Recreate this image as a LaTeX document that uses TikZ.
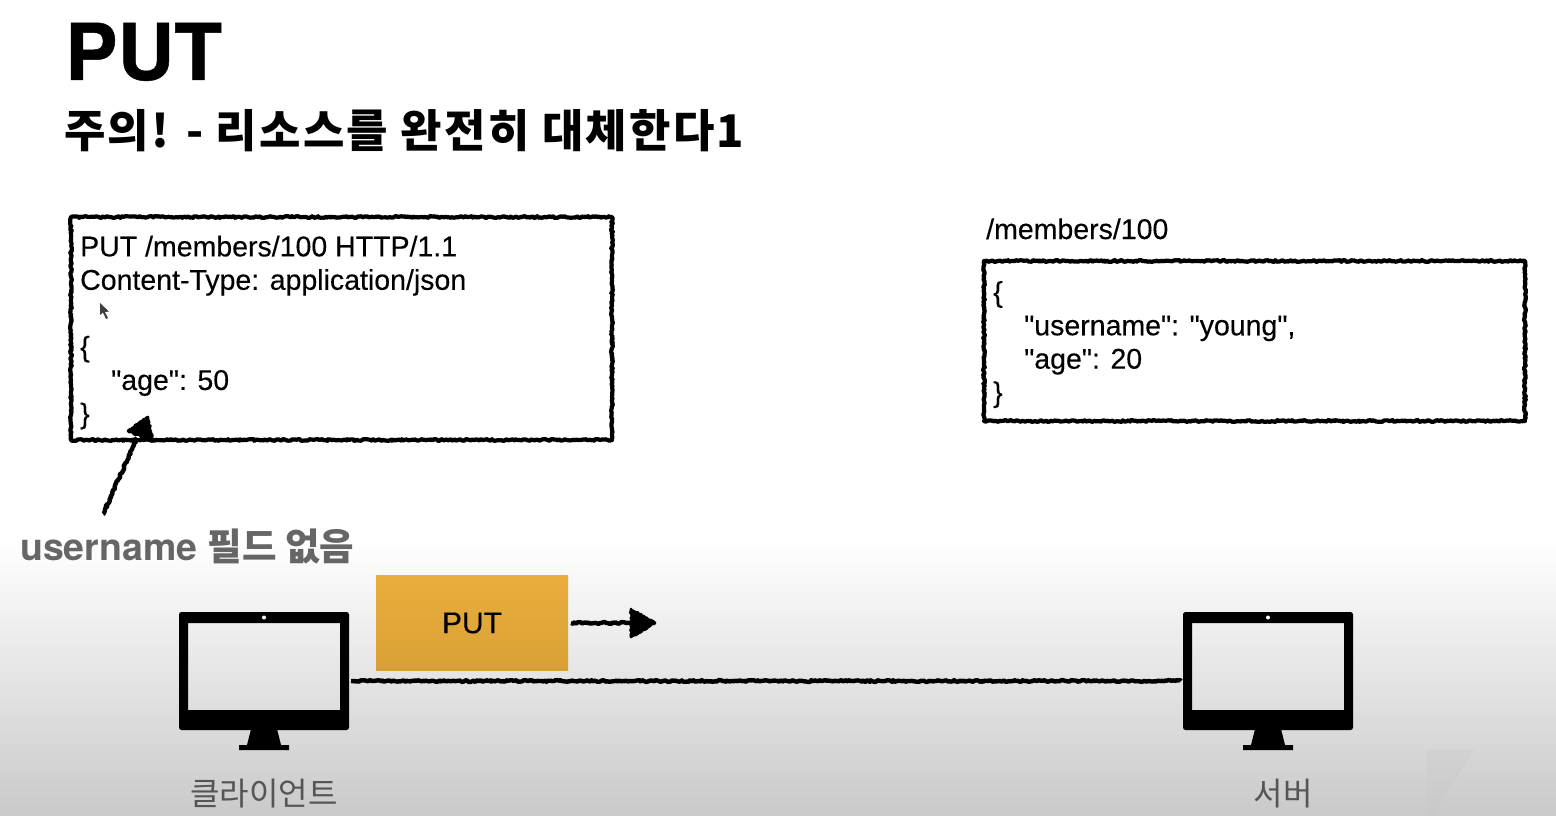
\documentclass[tikz,border=0pt]{standalone}
\usepackage{fontspec}
\setmainfont{TeX Gyre Heros}
\newfontfamily\kr{Noto Sans CJK KR}
\newfontfamily\plainbody[FakeBold=0.25]{Liberation Sans}
\newfontfamily\titlefont[FakeBold=0.6]{TeX Gyre Heros Bold}
\usetikzlibrary{decorations.pathmorphing,arrows.meta}
\definecolor{labgray}{HTML}{666666}
\definecolor{capgray}{HTML}{555555}
\definecolor{putTop}{HTML}{EAAE3E}
\definecolor{putBot}{HTML}{D9A035}
\tikzset{
  x=1pt,y=-1pt,
  rough/.style={decorate,decoration={random steps,segment length=1.6pt,amplitude=.9pt}},
  roughbox/.style={draw=black,line width=4.2pt,line join=round,rough,anchor=north west,inner sep=0pt,outer sep=0pt},
  bodytext/.style={anchor=north west,inner sep=0pt,align=left,font=\plainbody\fontsize{28.5}{33.4}\selectfont},
  monitor/.style={minimum width=170pt,minimum height=118pt,inner sep=0pt,outer sep=2pt},
  caption/.style={text=capgray,font=\kr\fontsize{32}{36}\selectfont,inner sep=0pt},
  roughline/.style={line width=4.4pt,line join=round,rough},
  roughhead/.style={fill=black,draw=black,line width=2.6pt,line join=round,rough},
  monitorbody/.pic={
    \fill[black,even odd rule,rounded corners=2.5pt] (0,0) rectangle (170,118) [sharp corners] (9,11) rectangle (161,98);
    \fill[black] (72,117) -- (98,117) -- (102,133) -- (110,133) -- (110,138) -- (60,138) -- (60,133) -- (68,133) -- cycle;
    \fill[white] (85,5.5) circle (2);
  }
}
\begin{document}
\begin{tikzpicture}
\useasboundingbox (0,0) rectangle (1556,816);
\fill[white] (0,0) rectangle (1556,816);
\shade[top color=white,bottom color=black!21] (0,540) rectangle (1556,816);
\fill[black!24,opacity=.2] (1427,749) -- (1475,749) -- (1431,816) -- (1427,816) -- cycle;

\node[anchor=base west,inner sep=0pt,font=\titlefont\fontsize{78.5}{80}\selectfont] (title) at (65,80) {PUT};
\node[anchor=base west,inner sep=0pt,font=\kr\bfseries\fontsize{45}{48}\addfontfeature{LetterSpace=5}\selectfont] (subtitle) at (64,147) {주의! - 리소스를 완전히 대체한다1};

\node[roughbox,minimum width=541pt,minimum height=223pt] (reqbox) at (71,217) {};
\node[bodytext] (reqtext) at (80,235.5) {PUT /members/100 HTTP/1.1\\Content-Type: application/json\\ \\\{\\\hspace*{31pt}"age": 50\\\}};
\fill[black!75] (100,303) -- (100,315) -- (103,312.5) -- (106,319) -- (108,318) -- (105,312) -- (109,311.5) -- cycle;

\node[bodytext,anchor=base west] (pathlabel) at (986,239) {/members/100};
\node[roughbox,minimum width=541pt,minimum height=160pt] (resbox) at (984,261) {};
\node[bodytext] (restext) at (993,281) {\{\\\hspace*{31pt}"username": "young",\\\hspace*{31pt}"age": 20\\\}};

\node[anchor=base west,inner sep=0pt,text=labgray,font=\bfseries\fontsize{37.5}{40}\selectfont] (nofield) at (20,560) {username {\kr 필드 없음}};
\coordinate (noteTail) at (103,514);
\coordinate (noteTip) at (148,417);
\coordinate (noteNeck) at (137,438);
\draw[roughline] (noteTail) -- (noteNeck);
\draw[roughhead] (noteTip) -- (153,441) -- (128,431) -- cycle;

\shade[top color=putTop,bottom color=putBot] (376,575) rectangle (568,670);
\node[inner sep=0pt,font=\plainbody\fontsize{30}{32}\selectfont,minimum width=192pt,minimum height=95pt,outer sep=3pt] (putbox) at (472,623) {PUT};
\coordinate (putTip) at (655,623);
\coordinate (putNeck) at (634,623);
\draw[roughline] (putbox.east) -- (putNeck);
\draw[roughhead] (putTip) -- (631,637) -- (631,609) -- cycle;

\pic at (179,612) {monitorbody};
\pic at (1183,612) {monitorbody};
\node[monitor] (client) at (264,671) {};
\node[monitor] (server) at (1268,671) {};
\draw[roughline] ([yshift=-10pt]client.east) -- ([yshift=-10pt]server.west);

\node[caption] (clientlabel) at (264,794) {클라이언트};
\node[caption] (serverlabel) at (1283,794) {서버};
\end{tikzpicture}
\end{document}
